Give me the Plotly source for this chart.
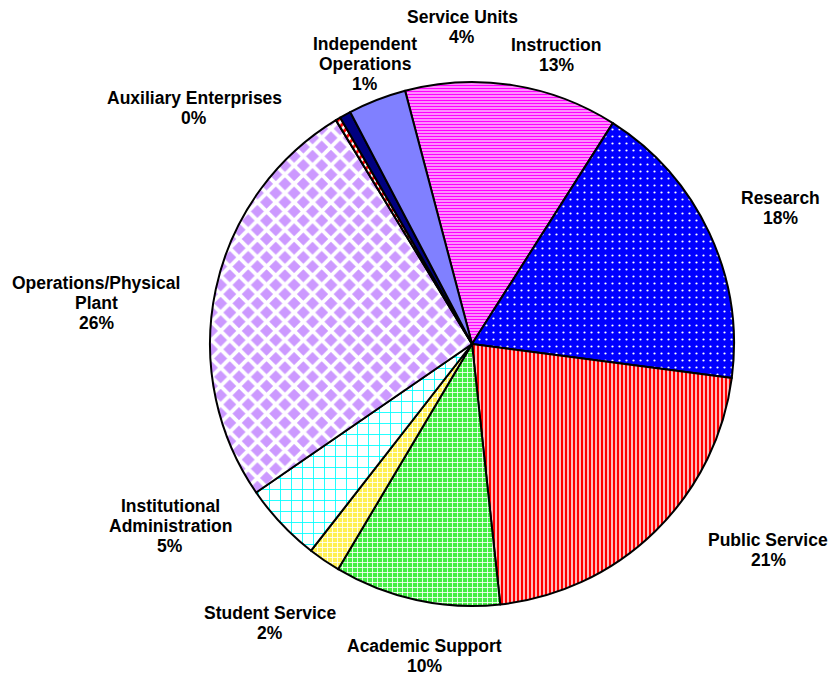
import plotly.graph_objects as go

W, H = 832, 679

# Expenditure share by function (percent of total)
categories = [
    "Instruction",
    "Research",
    "Public Service",
    "Academic Support",
    "Student Service",
    "Institutional Administration",
    "Operations/Physical Plant",
    "Auxiliary Enterprises",
    "Independent Operations",
    "Service Units",
]
shares = [13.2, 18.1, 21.3, 10.3, 2.0, 4.9, 26.0, 0.3, 0.7, 3.6]

# how each category name is broken across lines in its label
label_lines = [
    ["Instruction"],
    ["Research"],
    ["Public Service"],
    ["Academic Support"],
    ["Student Service"],
    ["Institutional", "Administration"],
    ["Operations/Physical", "Plant"],
    ["Auxiliary Enterprises"],
    ["Independent", "Operations"],
    ["Service Units"],
]

# label anchor: centre x and first-line centre y, in pixels
label_pos = [
    (556, 45),
    (780, 198),
    (768, 540),
    (424, 646),
    (270, 613),
    (170, 506),
    (96, 283),
    (194, 98),
    (365, 44),
    (462, 17),
]
LINE_GAP = 20.2

# fill styles per slice: (shape, foreground, background, size, solidity)
fills = [
    ("-", "#FF00FF", "#FFD0FF", 3, 0.55),
    (".", "#FFFFFF", "#0000FF", 7, 0.08),
    ("|", "#FF0000", "#FFD0D0", 4, 0.55),
    ("+", "#FFFFFF", "#44EE44", 5, 0.3),
    ("+", "#FFFFFF", "#FFF050", 5, 0.3),
    ("+", "#00FFFF", "#FFFFFF", 11, 0.15),
    ("x", "#FFFFFF", "#CC99FF", 13, 0.5),
    ("/", "#FF0000", "#FFFFFF", 6, 0.5),
    ("", "#000080", "#000080", 8, 0.5),
    ("", "#8080FF", "#8080FF", 8, 0.5),
]

fig = go.Figure(
    go.Pie(
        labels=categories,
        values=shares,
        sort=False,
        direction="clockwise",
        rotation=-14.8,
        textinfo="none",
        marker=dict(
            colors=[f[2] for f in fills],
            line=dict(color="black", width=2),
            pattern=dict(
                shape=[f[0] for f in fills],
                fgcolor=[f[1] for f in fills],
                bgcolor=[f[2] for f in fills],
                size=[f[3] for f in fills],
                solidity=[f[4] for f in fills],
                fillmode="replace",
            ),
        ),
        domain=dict(x=[210 / W, 734 / W], y=[1 - 606 / H, 1 - 82 / H]),
    )
)

# category labels with their rounded share of the total
total = sum(shares)
font = dict(family="Liberation Sans, Arial", size=17.5, color="black", weight="bold")
annotations = []
for lines, val, (px, py) in zip(label_lines, shares, label_pos):
    text_lines = lines + [f"{round(100 * val / total)}%"]
    for k, line in enumerate(text_lines):
        annotations.append(
            dict(
                x=px / W,
                y=1 - (py + k * LINE_GAP) / H,
                xref="paper",
                yref="paper",
                text=line,
                showarrow=False,
                xanchor="center",
                yanchor="middle",
                borderpad=0,
                font=font,
            )
        )

fig.update_layout(
    width=W,
    height=H,
    margin=dict(l=0, r=0, t=0, b=0),
    showlegend=False,
    paper_bgcolor="white",
    plot_bgcolor="white",
    annotations=annotations,
)

fig.write_html("out.html")
